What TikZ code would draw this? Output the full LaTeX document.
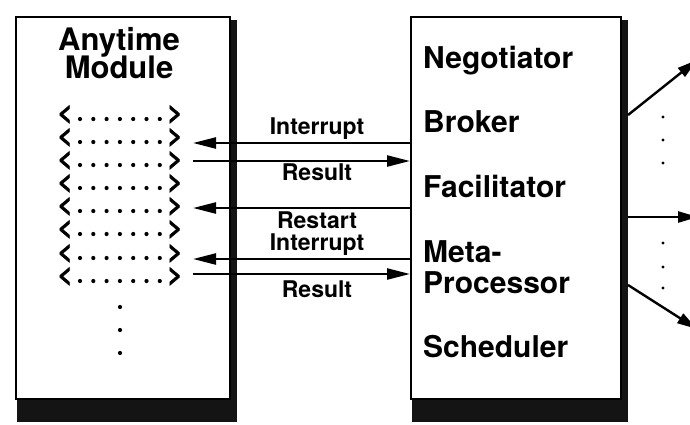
\documentclass[tikz,border=0pt]{standalone}
\usepackage{fontspec}
\setmainfont{TeX Gyre Heros}
\newfontfamily\chevfont[FakeBold=2.5]{TeX Gyre Heros}
\usetikzlibrary{arrows.meta}
\begin{document}
\begin{tikzpicture}[x=1pt,y=-1pt,
  box/.style={draw=black, line width=2pt, fill=white, anchor=north west, inner sep=0pt},
  shadowfill/.style={fill=black!92},
  title/.style={font=\fontsize{31}{31}\selectfont\bfseries, anchor=base, inner sep=0pt},
  item/.style={font=\fontsize{30}{30}\selectfont\bfseries, anchor=base west, inner sep=0pt},
  msg/.style={font=\fontsize{23}{23}\selectfont\bfseries, anchor=base, inner sep=0pt},
  chev/.style={font=\fontsize{25}{25}\chevfont\bfseries, inner sep=0pt, anchor=mid},
  conn/.style={line width=2.4pt, -{Triangle[length=23pt,width=11pt]}},
  outconn/.style={line width=2.4pt, -{Triangle[length=20pt,width=11pt]}},
  dotmark/.style={circle, fill=black, draw=none, inner sep=0pt, minimum size=4.2pt},
]
\clip (0,0) rectangle (690,424);
\fill[white] (0,0) rectangle (690,424);
% left box
\fill[shadowfill] (17,20) rectangle (237,422);
\node[box, minimum width=214pt, minimum height=382pt] (am) at (15,16) {};
\node[title] (t1) at (119,50) {Anytime};
\node[title] (t2) at (119,78) {Module};
\foreach \y [count=\i] in {118,141,164,187,210,233,257,280}{
  \node[chev] (lt\i) at (65,\y) {<};
  \node[chev] (gt\i) at (175,\y) {>};
  \foreach \k in {0,...,6}{
    \node[dotmark] (d\i-\k) at (80+13.3*\k,\y+1) {};
  }
}
\node[dotmark] (v1) at (120,307) {};
\node[dotmark] (v2) at (120,330) {};
\node[dotmark] (v3) at (120,353) {};
% right box
\fill[shadowfill] (412,20) rectangle (628,422);
\node[box, minimum width=210pt, minimum height=382pt] (mp) at (410,16) {};
\node[item] (neg) at (423,68) {Negotiator};
\node[item] (bro) at (423,132) {Broker};
\node[item] (fac) at (423,197) {Facilitator};
\node[item] (met) at (423,262) {Meta-};
\node[item] (pro) at (423,293) {Processor};
\node[item] (sch) at (423,357) {Scheduler};
% messages
\coordinate (a1) at (193,143);
\coordinate (a2) at (193,161);
\coordinate (a3) at (193,208);
\coordinate (a4) at (193,259);
\coordinate (a5) at (193,274);
\draw[conn] (mp.west |- a1) -- (a1);
\draw[conn] (a2) -- (mp.west |- a2);
\draw[conn] (mp.west |- a3) -- (a3);
\draw[conn] (mp.west |- a4) -- (a4);
\draw[conn] (a5) -- (mp.west |- a5);
\node[msg] (m1) at (317,134) {Interrupt};
\node[msg] (m2) at (317,180) {Result};
\node[msg] (m3) at (317,228) {Restart};
\node[msg] (m4) at (317,250) {Interrupt};
\node[msg] (m5) at (317,297) {Result};
% outputs
\coordinate (o1s) at (628,115);
\coordinate (o1e) at (697,60);
\coordinate (o2s) at (628,217);
\coordinate (o2e) at (698,217);
\coordinate (o3s) at (628,285);
\coordinate (o3e) at (697,329);
\draw[outconn] (o1s) -- (o1e);
\draw[outconn] (o2s) -- (o2e);
\draw[outconn] (o3s) -- (o3e);
\foreach \y [count=\i] in {117,140,163,243,267,288}{
  \node[dotmark, minimum size=3.4pt] (r\i) at (663,\y) {};
}
\end{tikzpicture}
\end{document}
